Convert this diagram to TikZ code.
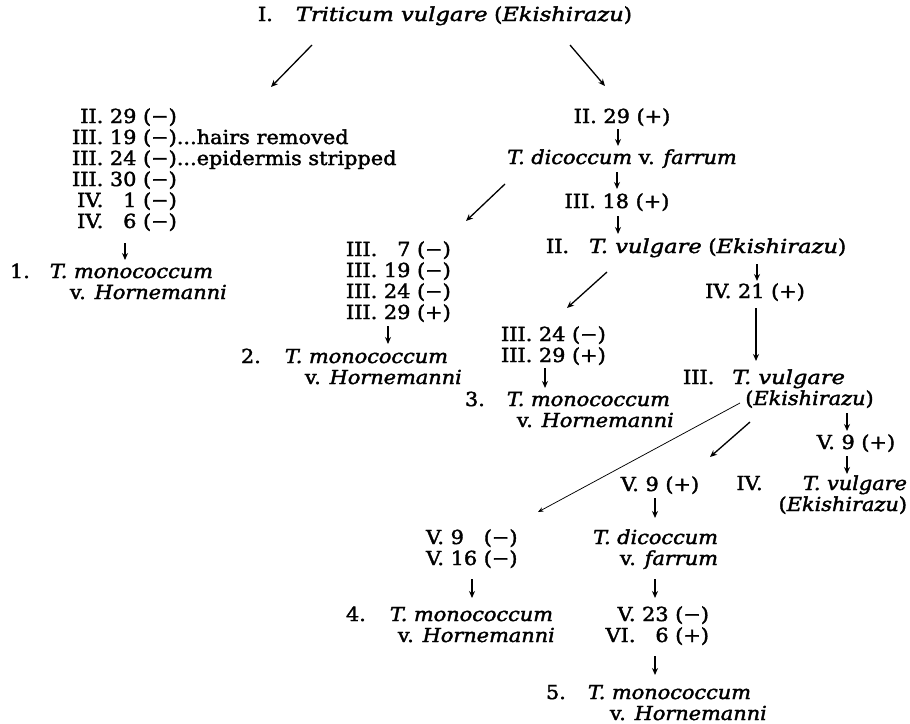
\documentclass[tikz,border=0pt]{standalone}
\usepackage{fontspec}
\setmainfont{DejaVu Serif}[FakeStretch=1.08, FakeBold=2.0]
\newfontfamily\wideserif{DejaVu Serif}[FakeStretch=1.17, FakeBold=2.0]
\newcommand\wit[1]{{\wideserif\itshape #1}}
\usetikzlibrary{arrows.meta}
\begin{document}
\begin{tikzpicture}[x=1pt,y=-1pt,
  every node/.style={inner sep=0pt, outer sep=0pt, font=\fontsize{19.3}{21}\selectfont},
  arr/.style={-{Stealth[length=7pt,width=6pt]}, line width=1.3pt},
  thinarr/.style={-{Stealth[length=5.5pt,width=4.5pt]}, line width=0.75pt}]
\useasboundingbox (0,0) rectangle (910,723);
% top
\node[anchor=base west] (T0) at (258,21) {I.\hspace{23pt}\wit{Triticum vulgare} (\wit{Ekishirazu})};
% left list
\node[anchor=base west] (L1) at (72,123) {\begin{tabular}[t]{@{}r@{\ }r@{\ }l@{}}
II. & 29 & (−)\\
III. & 19 & (−)...hairs removed\\
III. & 24 & (−)...epidermis stripped\\
III. & 30 & (−)\\
IV. & 1 & (−)\\
IV. & 6 & (−)
\end{tabular}};
\node[anchor=base west] (N1) at (10,278) {\begin{tabular}[t]{@{}l@{\hspace{20pt}}l@{}}
1. & \textit{T. monococcum}\\
 & \hspace*{20pt}v. \textit{Hornemanni}
\end{tabular}};
% right chain
\node[anchor=base] (R1) at (622,123) {II. 29 (+)};
\node[anchor=base] (R2) at (622,164) {\textit{T. dicoccum} v. \textit{farrum}};
\node[anchor=base] (R3) at (617,208) {III. 18 (+)};
\node[anchor=base west] (R4) at (546,253) {II.\hspace{20pt}\wit{T. vulgare} (\wit{Ekishirazu})};
\node[anchor=base] (R5) at (755,298) {IV. 21 (+)};
\node[anchor=base west] (R6) at (683,384) {\begin{tabular}[t]{@{}l@{\hspace{18pt}}l@{}}
III. & \wit{T. vulgare}\\
 & \hspace*{13pt}(\textit{Ekishirazu})
\end{tabular}};
\node[anchor=base] (R7) at (856,449) {V. 9 (+)};
\node[anchor=base east] (R8) at (907,490) {\begin{tabular}[t]{@{}l@{\hspace{16pt}}r@{}}
IV. & \textit{T. vulgare}\\
 & (\textit{Ekishirazu})
\end{tabular}};
% middle branch
\node[anchor=base west] (M1) at (346,256) {\begin{tabular}[t]{@{}r@{\ }r@{\ }l@{}}
III. & 7 & (−)\\
III. & 19 & (−)\\
III. & 24 & (−)\\
III. & 29 & (+)
\end{tabular}};
\node[anchor=base west] (M2) at (241,363) {\begin{tabular}[t]{@{}l@{\hspace{24pt}}l@{}}
2. & \textit{T. monococcum}\\
 & \hspace*{20pt}v. \textit{Hornemanni}
\end{tabular}};
% third branch
\node[anchor=base west] (B1) at (501,341) {\begin{tabular}[t]{@{}r@{\ }r@{\ }l@{}}
III. & 24 & (−)\\
III. & 29 & (+)
\end{tabular}};
\node[anchor=base west] (B2) at (465,406) {\begin{tabular}[t]{@{}l@{\hspace{22pt}}l@{}}
3. & \textit{T. monococcum}\\
 & \hspace*{10pt}v. \textit{Hornemanni}
\end{tabular}};
% lower branches
\node[anchor=base] (V1) at (660,491) {V. 9 (+)};
\node[anchor=base east] (V2) at (718,544) {\begin{tabular}[t]{@{}r@{}}
\textit{T. dicoccum}\\
v. \textit{farrum}
\end{tabular}};
\node[anchor=base east] (V3) at (709,621) {\begin{tabular}[t]{@{}r@{\ }r@{\ }l@{}}
V. & 23 & (−)\\
VI. & 6 & (+)
\end{tabular}};
\node[anchor=base west] (V4) at (546,699) {\begin{tabular}[t]{@{}l@{\hspace{22pt}}l@{}}
5. & \textit{T. monococcum}\\
 & \hspace*{22pt}v. \textit{Hornemanni}
\end{tabular}};
\node[anchor=base west] (W1) at (426,544) {\begin{tabular}[t]{@{}l@{\ }l@{\ }l@{}}
V. & 9 & (−)\\
V. & 16 & (−)
\end{tabular}};
\node[anchor=base west] (W2) at (346,621) {\begin{tabular}[t]{@{}l@{\hspace{24pt}}l@{}}
4. & \textit{T. monococcum}\\
 & \hspace*{8pt}v. \textit{Hornemanni}
\end{tabular}};
% connectors
\draw[arr] ([shift={(54,24)}]T0.base west) -- ([shift={(199,-36)}]L1.base west);
\draw[arr] ([shift={(312,24)}]T0.base west) -- ([shift={(-17,-37)}]R1.base);
\draw[arr] ([shift={(53,120)}]L1.base west) -- ([shift={(115,-18)}]N1.base west);
\draw[arr] ([shift={(-4,6)}]R1.base) -- ([shift={(-4,-18)}]R2.base);
\draw[arr] ([shift={(-5,8)}]R2.base) -- ([shift={(0,-19)}]R3.base);
\draw[arr] ([shift={(1,8)}]R3.base) -- ([shift={(72,-19)}]R4.base west);
\draw[arr] ([shift={(211,11)}]R4.base west) -- ([shift={(2,-17)}]R5.base);
\draw[arr] ([shift={(1,10)}]R5.base) -- ([shift={(73,-23)}]R6.base west);
\draw[arr] ([shift={(164,29)}]R6.base west) -- ([shift={(-9,-18)}]R7.base);
\draw[arr] ([shift={(-9,7)}]R7.base) -- ([shift={(-60,-16)}]R8.base east);
\draw[arr] ([shift={(-117,20)}]R2.base) -- ([shift={(120,-35)}]M1.base west);
\draw[arr] ([shift={(42,70)}]M1.base west) -- ([shift={(147,-19)}]M2.base west);
\draw[arr] ([shift={(61,19)}]R4.base west) -- ([shift={(66,-33)}]B1.base west);
\draw[arr] ([shift={(44,27)}]B1.base west) -- ([shift={(80,-18)}]B2.base west);
\draw[thinarr] ([shift={(57,19)}]R6.base west) -- ([shift={(112,-32)}]W1.base west);
\draw[arr] ([shift={(67,38)}]R6.base west) -- ([shift={(50,-34)}]V1.base);
\draw[arr] ([shift={(-5,7)}]V1.base) -- ([shift={(-63,-26)}]V2.base east);
\draw[arr] ([shift={(-63,35)}]V2.base east) -- ([shift={(-54,-23)}]V3.base east);
\draw[arr] ([shift={(-54,35)}]V3.base east) -- ([shift={(109,-24)}]V4.base west);
\draw[arr] ([shift={(46,35)}]W1.base west) -- ([shift={(126,-23)}]W2.base west);
\end{tikzpicture}
\end{document}
